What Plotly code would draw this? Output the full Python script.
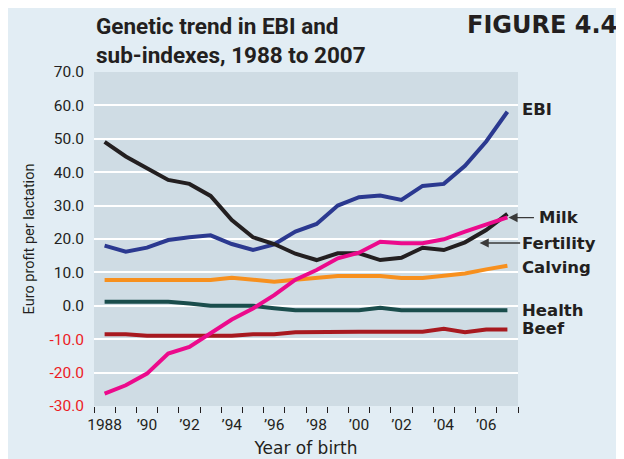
import plotly.graph_objects as go

# Year of birth (one category per year)
years = [str(y) for y in range(1988, 2008)]
year_labels = ["1988", "", "’90", "", "’92", "", "’94", "", "’96", "", "’98", "",
               "’00", "", "’02", "", "’04", "", "’06", ""]

# Euro profit per lactation
ebi = [18.0, 16.2, 17.4, 19.7, 20.5, 21.1, 18.5, 16.7, 18.4, 22.2,
       24.5, 30.0, 32.5, 33.0, 31.7, 35.9, 36.5, 41.9, 49.2, 58.1]
fertility = [49.1, 44.7, 41.2, 37.7, 36.5, 32.9, 25.7, 20.5, 18.5, 15.6,
             13.7, 15.7, 15.7, 13.7, 14.4, 17.4, 16.7, 19.0, 22.7, 27.5]
milk = [-26.3, -23.8, -20.3, -14.3, -12.3, -8.3, -4.1, -0.8, 3.2, 7.8,
        10.7, 14.2, 15.9, 19.2, 18.7, 18.7, 19.9, 22.2, 24.2, 26.5]
calving = [7.7, 7.7, 7.7, 7.7, 7.7, 7.7, 8.4, 7.7, 7.2, 7.8,
           8.5, 8.9, 8.9, 8.9, 8.3, 8.3, 9.0, 9.7, 10.9, 12.0]
health = [1.2, 1.2, 1.2, 1.2, 0.7, 0.0, 0.0, 0.0, -0.7, -1.3,
          -1.3, -1.3, -1.3, -0.6, -1.3, -1.3, -1.3, -1.3, -1.3, -1.3]
beef = [-8.5, -8.5, -9.0, -9.0, -9.0, -9.0, -9.0, -8.5, -8.5, -7.9,
        -7.8, -7.8, -7.8, -7.8, -7.8, -7.8, -6.9, -7.9, -7.1, -7.1]

y_ticks = [70, 60, 50, 40, 30, 20, 10, 0, -10, -20, -30]

NARROW = "Roboto, sans-serif"
WIDE = "DejaVu Sans, sans-serif"
PANEL = "#e2edf4"
PLOT_BG = "#cfdce4"
INK = "#231f20"

series = [
    ("Beef", beef, "#a8191f"),
    ("Health", health, "#1a4d4c"),
    ("Calving", calving, "#f7901e"),
    ("EBI", ebi, "#2b3990"),
    ("Fertility", fertility, INK),
    ("Milk", milk, "#ec0a8c"),
]

fig = go.Figure()
for name, vals, colour in series:
    fig.add_trace(go.Scatter(
        x=years, y=vals, mode="lines", name=name,
        line=dict(color=colour, width=4),
        showlegend=False,
    ))

tick_text = []
for v in y_ticks:
    label = f"{v:.1f}"
    if v < 0:
        label = f'<span style="color:#ec1c24">{label}</span>'
    tick_text.append(label)

fig.update_xaxes(
    type="category",
    categoryorder="array",
    categoryarray=years,
    tickmode="array",
    tickvals=years,
    ticktext=year_labels,
    tickson="boundaries",
    ticks="outside",
    ticklen=6,
    tickwidth=1,
    tickcolor=INK,
    tickangle=0,
    ticklabelstandoff=7,
    showgrid=False,
    showline=False,
    zeroline=False,
    automargin=False,
    range=[-0.5, 19.5],
    tickfont=dict(family=NARROW, size=15.5, color=INK),
    title=dict(text="Year of birth", font=dict(family=WIDE, size=17, color=INK),
               standoff=9),
)
fig.update_yaxes(
    range=[-30, 70],
    tickmode="array",
    tickvals=y_ticks,
    ticktext=tick_text,
    showgrid=True,
    gridcolor="white",
    gridwidth=2,
    zeroline=False,
    showline=False,
    ticks="",
    ticklabelstandoff=9,
    automargin=False,
    tickfont=dict(family=NARROW, size=15.5, color=INK),
    title=dict(text="Euro profit per lactation",
               font=dict(family=NARROW, size=14.5, color=INK), standoff=11),
)

# right-hand series labels
labels = [("EBI", 58.7), ("Fertility", 18.8), ("Calving", 11.4),
          ("Health", -1.3), ("Beef", -6.7)]
for text, yv in labels:
    fig.add_annotation(
        x=1.005, xref="paper", y=yv, yref="y", text=f"<b>{text}</b>",
        showarrow=False, xanchor="left", yanchor="middle",
        font=dict(family=WIDE, size=16.5, color=INK),
    )
fig.add_annotation(
    x=1.045, xref="paper", y=26.4, yref="y", text="<b>Milk</b>",
    showarrow=False, xanchor="left", yanchor="middle",
    font=dict(family=WIDE, size=16.5, color=INK),
)
# pointer arrows (tail offset in pixels)
fig.add_annotation(
    x=19.05, y=26.4, xref="x", yref="y", ax=27, ay=0,
    text="", showarrow=True, arrowhead=2, arrowsize=1.4, arrowwidth=1.3,
    arrowcolor="#3a3a3a",
)
fig.add_annotation(
    x=17.69, y=18.8, xref="x", yref="y", ax=42, ay=0,
    text="", showarrow=True, arrowhead=2, arrowsize=1.4, arrowwidth=1.3,
    arrowcolor="#3a3a3a",
)

# titles
fig.add_annotation(
    x=0.0, xref="paper", y=1.0943, yref="paper",
    text="<b>Genetic trend in EBI and<br>sub-indexes, 1988 to 2007</b>",
    showarrow=False, xanchor="left", yanchor="middle", align="left",
    font=dict(family=NARROW, size=22.5, color=INK),
)
fig.add_annotation(
    x=0.875, xref="paper", y=1.1407, yref="paper", text="<b>FIGURE 4.4</b>",
    showarrow=False, xanchor="left", yanchor="middle",
    font=dict(family=WIDE, size=24, color=INK),
)

# the page adds an 8px white body margin, so the figure is 8px smaller
fig.update_layout(
    width=616, height=451,
    margin=dict(l=86, r=106, t=64, b=53),
    paper_bgcolor=PANEL,
    plot_bgcolor=PLOT_BG,
)

fig.write_html("out.html")
